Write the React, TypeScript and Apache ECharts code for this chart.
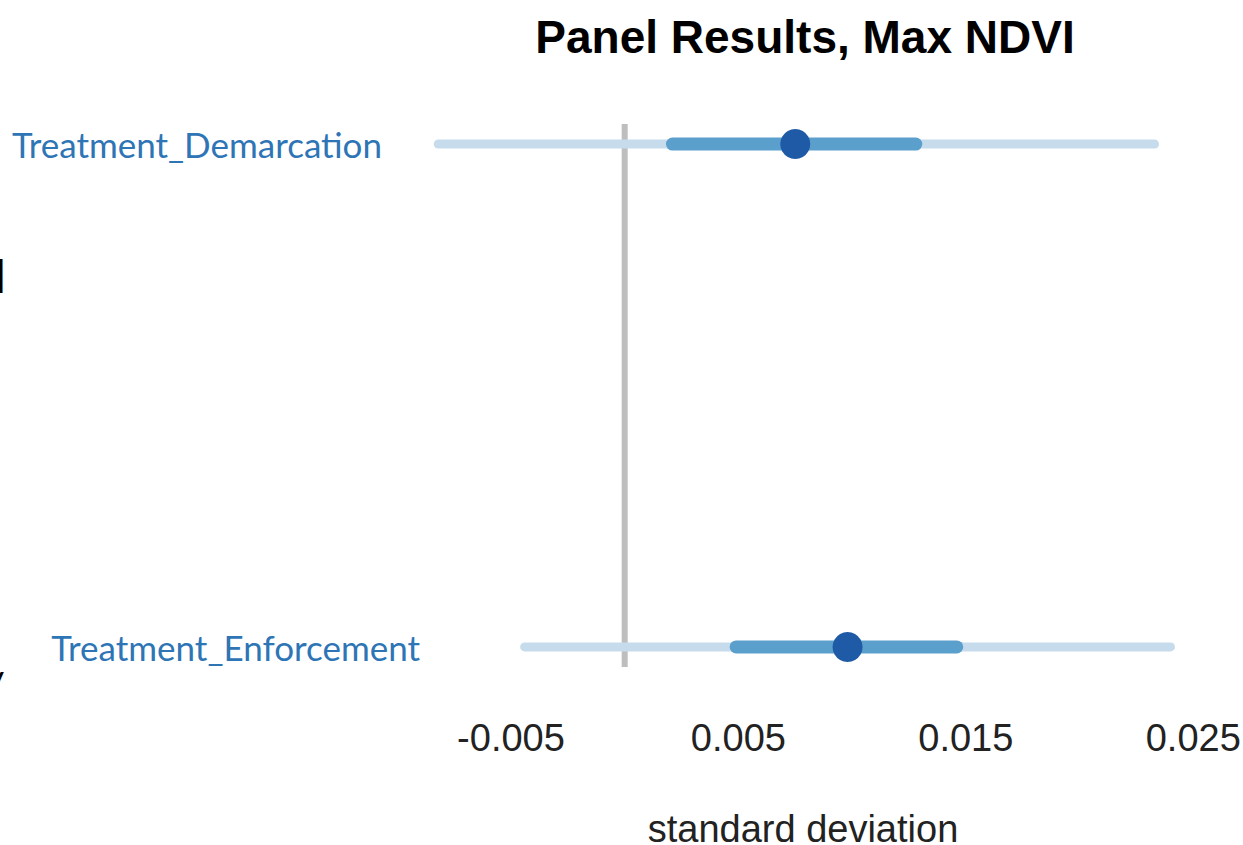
import React, { useEffect, useRef } from "react";
import * as echarts from "echarts";

// Coefficient estimates with inner and outer interval bounds, one entry per term
const terms = ["Treatment_Enforcement", "Treatment_Demarcation"];
const estimates = [0.0098, 0.0075];
const innerLow = [0.0049, 0.0021];
const innerHigh = [0.0146, 0.0128];
const outerLow = [-0.0044, -0.0082];
const outerHigh = [0.024, 0.0233];

const xTicks = [-0.005, 0.005, 0.015, 0.025];
const xMin = -0.009;
const xMax = 0.026;
const yMin = -0.04;
const yMax = 1.04;

export default function App() {
  const ref = useRef<HTMLDivElement>(null);

  useEffect(() => {
    if (!ref.current) return;
    const chart = echarts.init(ref.current, null, { renderer: "svg" });

    const rows = terms.map((_, i) => [
      i,
      estimates[i],
      innerLow[i],
      innerHigh[i],
      outerLow[i],
      outerHigh[i],
    ]);

    chart.setOption({
      animation: false,
      backgroundColor: "#ffffff",
      title: {
        text: "Panel Results, Max NDVI",
        left: 800,
        top: 9,
        textAlign: "center",
        textStyle: {
          fontFamily: "Liberation Sans",
          fontWeight: "bold",
          fontSize: 46,
          color: "#000000",
        },
      },
      grid: { left: 420, right: 27, top: 124, bottom: 178, outerBoundsMode: "none" },
      xAxis: {
        type: "value",
        min: xMin,
        max: xMax,
        splitLine: { show: false },
        axisLine: { show: false },
        axisTick: { show: false },
        axisLabel: {
          customValues: xTicks,
          margin: 52,
          fontFamily: "Liberation Sans",
          fontSize: 38,
          color: "#222222",
          formatter: (v: number) => String(v),
        },
        name: "standard deviation",
        nameLocation: "middle",
        nameGap: 146,
        nameTextStyle: {
          fontFamily: "Liberation Sans",
          fontSize: 38,
          lineHeight: 32,
          color: "#222222",
          padding: [0, 30, 0, 0],
        },
      },
      yAxis: {
        type: "value",
        min: yMin,
        max: yMax,
        splitLine: { show: false },
        axisLine: { show: false },
        axisTick: { show: false },
        axisLabel: {
          customValues: [0, 1],
          margin: 0,
          formatter: (v: number) => {
            const i = Math.round(v);
            return i === 1 ? `{shift|${terms[i]}}` : `{base|${terms[i]}}`;
          },
          rich: {
            base: {
              fontFamily: "Lato",
              fontSize: 35,
              color: "#2E75B6",
            },
            shift: {
              fontFamily: "Lato",
              fontSize: 35,
              color: "#2E75B6",
              padding: [0, 38, 0, 0],
            },
          },
        },
      },
      graphic: [
        {
          type: "text",
          left: -5,
          top: 252,
          style: { text: "l", fontFamily: "Lato", fontSize: 46, fill: "#000000" },
        },
        {
          type: "text",
          left: -15,
          top: 658,
          style: { text: "y", fontFamily: "Lato", fontSize: 37, fill: "#000000" },
        },
      ],
      series: [
        {
          // zero reference line
          type: "line",
          silent: true,
          z: 1,
          symbol: "none",
          data: [
            [0, yMin],
            [0, yMax],
          ],
          lineStyle: { color: "#bebebe", width: 6 },
        },
        {
          type: "custom",
          z: 2,
          silent: true,
          encode: { x: [1, 2, 3, 4, 5], y: 0 },
          data: rows,
          renderItem: (params: any, api: any) => {
            const y = api.value(0);
            const est = api.coord([api.value(1), y]);
            const il = api.coord([api.value(2), y]);
            const ih = api.coord([api.value(3), y]);
            const ol = api.coord([api.value(4), y]);
            const oh = api.coord([api.value(5), y]);
            return {
              type: "group",
              children: [
                {
                  type: "line",
                  shape: { x1: ol[0], y1: ol[1], x2: oh[0], y2: oh[1] },
                  style: { stroke: "#c6dcec", lineWidth: 9, lineCap: "round" },
                },
                {
                  type: "line",
                  shape: { x1: il[0], y1: il[1], x2: ih[0], y2: ih[1] },
                  style: { stroke: "#5b9fcd", lineWidth: 13, lineCap: "round" },
                },
                {
                  type: "circle",
                  shape: { cx: est[0], cy: est[1], r: 15 },
                  style: { fill: "#1f5aa6" },
                },
              ],
            };
          },
        },
      ],
    });

    return () => chart.dispose();
  }, []);

  return (
    <div
      ref={ref}
      style={{ position: "absolute", left: 0, top: 0, width: 1243, height: 845, background: "#fff" }}
    />
  );
}
